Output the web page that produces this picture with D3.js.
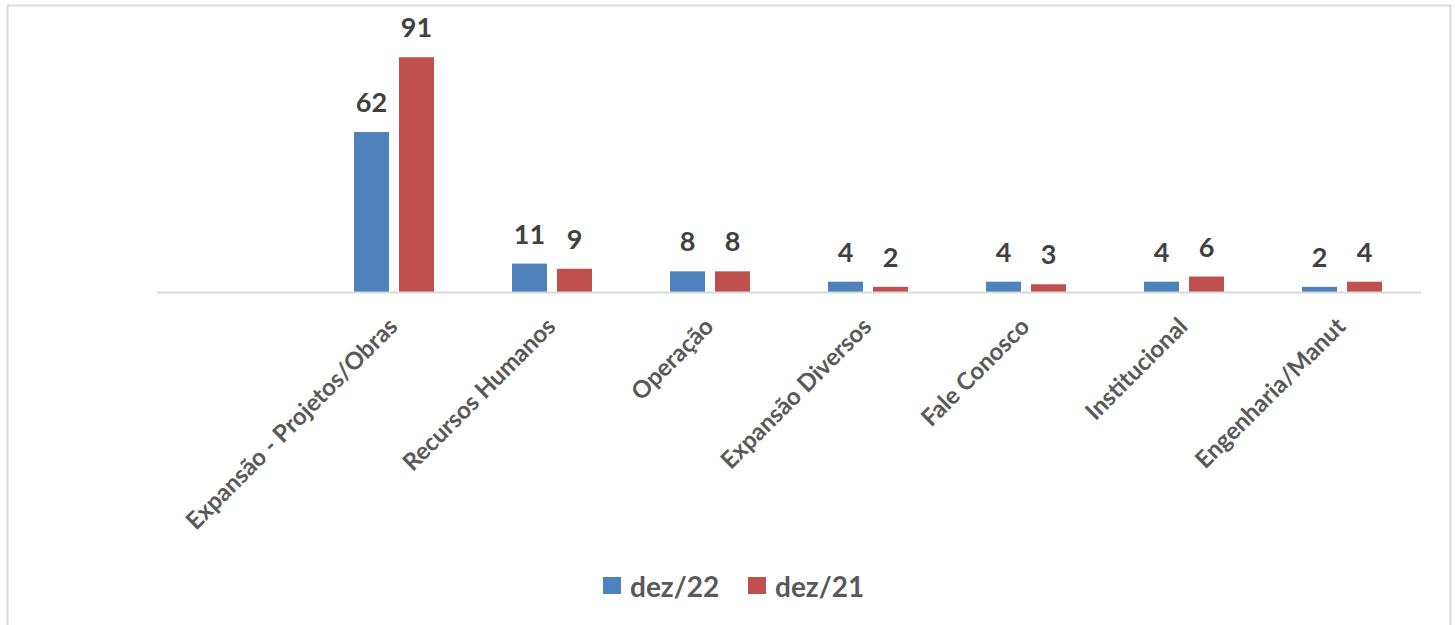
<!DOCTYPE html>
<html>
<head>
<meta charset="utf-8">
<script src="https://cdn.jsdelivr.net/npm/d3@7"></script>
<style>
  body { margin: 0; background: #fff; }
  svg { display: block; font-family: Lato, "Open Sans", sans-serif; font-weight: bold; }
</style>
</head>
<body>
<div id="viz"></div>
<script>
// data
const categories = ['', 'Expansão - Projetos/Obras', 'Recursos Humanos', 'Operação', 'Expansão Diversos', 'Fale Conosco', 'Institucional', 'Engenharia/Manut'];
const seriesNames = ['dez/22', 'dez/21'];
const dez22 = [null, 62, 11, 8, 4, 4, 4, 2];
const dez21 = [null, 91, 9, 8, 2, 3, 6, 4];
const colors = ['#4f81bd', '#c0504d'];

const width = 1455, height = 625;
const plot = { left: 157, right: 1421, top: 34, bottom: 292 };

const rows = categories.map((c, i) => ({ cat: c, values: [dez22[i], dez21[i]] }));

const svg = d3.select('#viz').append('svg')
  .attr('width', width)
  .attr('height', height);

// chart frame
svg.append('path')
  .attr('d', `M7.5,${height + 2}V5.5H1450.5V${height + 2}`)
  .attr('fill', 'none')
  .attr('stroke', '#d9d9d9')
  .attr('stroke-width', 2);

const x = d3.scaleBand()
  .domain(categories.map((c, i) => i))
  .range([plot.left, plot.right]);

const inner = d3.scaleBand()
  .domain([0, 1])
  .range([0, 80])
  .paddingInner(10 / 45);

const y = d3.scaleLinear()
  .domain([0, 100])
  .range([plot.bottom, plot.top]);

// bars
const groups = svg.selectAll('g.grp')
  .data(rows)
  .enter().append('g')
    .attr('class', 'grp')
    .attr('transform', (d, i) => `translate(${x(i) + (x.bandwidth() - 80) / 2},0)`);

groups.selectAll('rect')
  .data(d => d.values.map((v, k) => ({ v, k })).filter(e => e.v != null))
  .enter().append('rect')
    .attr('x', d => inner(d.k))
    .attr('width', inner.bandwidth())
    .attr('y', d => y(d.v))
    .attr('height', d => y(0) - y(d.v))
    .attr('fill', d => colors[d.k]);

// value labels
groups.selectAll('text.val')
  .data(d => d.values.map((v, k) => ({ v, k })).filter(e => e.v != null))
  .enter().append('text')
    .attr('class', 'val')
    .attr('x', d => inner(d.k) + inner.bandwidth() / 2)
    .attr('y', d => y(d.v) - 20)
    .attr('text-anchor', 'middle')
    .attr('font-size', '27px')
    .attr('fill', '#404040')
    .text(d => d.v);

// x axis baseline
svg.append('line')
  .attr('x1', plot.left).attr('x2', plot.right)
  .attr('y1', y(0) + 0.5).attr('y2', y(0) + 0.5)
  .attr('stroke', '#d9d9d9')
  .attr('stroke-width', 2);

// category labels, rotated
svg.selectAll('text.cat')
  .data(categories)
  .enter().append('text')
    .attr('class', 'cat')
    .attr('transform', (d, i) => `translate(${x(i) + x.bandwidth() / 2 + 5},${plot.bottom + 36})rotate(-45)`)
    .attr('text-anchor', 'end')
    .attr('font-size', '24px')
    .attr('fill', '#595959')
    .text(d => d);

// legend
const legend = svg.append('g').attr('transform', 'translate(603,0)');
const items = legend.selectAll('g')
  .data(seriesNames)
  .enter().append('g')
    .attr('transform', (d, i) => `translate(${i * 145},0)`);
items.append('rect')
  .attr('x', 0).attr('y', 577)
  .attr('width', 18).attr('height', 17)
  .attr('fill', (d, i) => colors[i]);
items.append('text')
  .attr('x', 27).attr('y', 597)
  .attr('font-size', '28px')
  .attr('fill', '#595959')
  .text(d => d);
</script>
</body>
</html>
